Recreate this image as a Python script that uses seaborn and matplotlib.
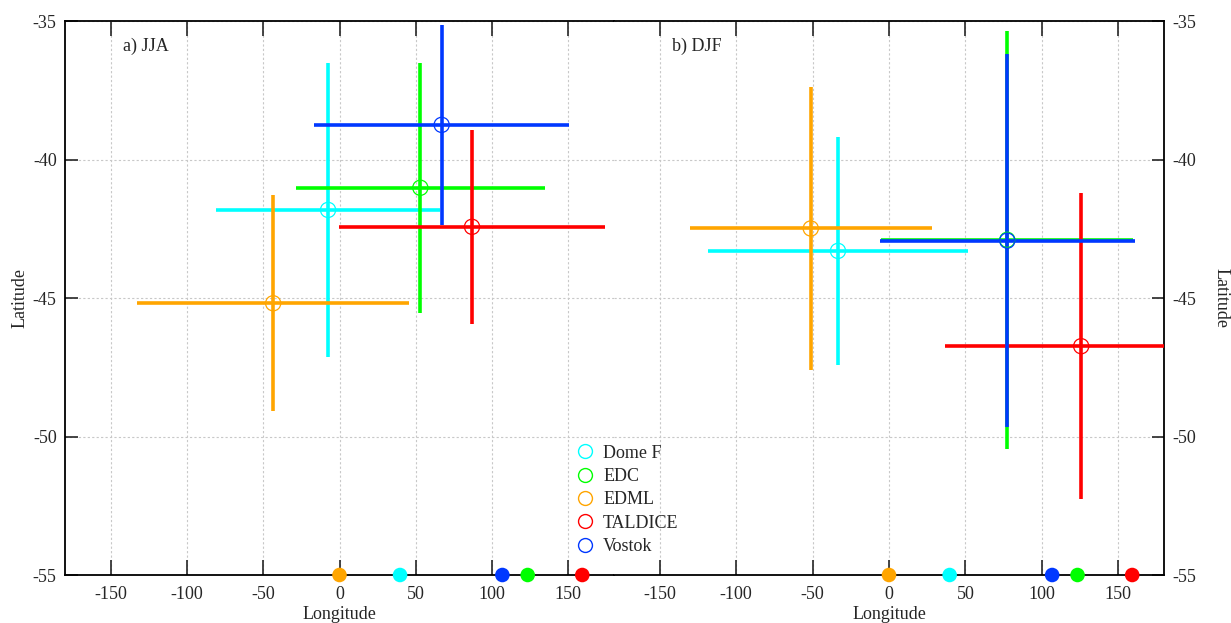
import matplotlib
matplotlib.use("Agg")
import matplotlib.pyplot as plt
import seaborn as sns
import pandas as pd

# stations and colours
stations = ["Dome F", "EDC", "EDML", "TALDICE", "Vostok"]
colors = ["#00ffff", "#00ff00", "#ffa500", "#ff0000", "#0038ff"]

# site longitudes (dots on the bottom axis)
site_lon = [39.7, 123.4, 0.0, 159.2, 106.8]

# JJA moisture source centre and spread
jja_lon = [-7.5, 53.0, -43.5, 86.9, 67.0]
jja_lon_err = [73.5, 81.6, 89.4, 87.4, 83.5]
jja_lat = [-41.82, -41.02, -45.19, -42.43, -38.75]
jja_lat_err = [5.31, 4.52, 3.9, 3.5, 3.6]

# DJF moisture source centre and spread
djf_lon = [-33.4, 77.4, -51.2, 125.8, 77.4]
djf_lon_err = [85.0, 82.6, 79.2, 88.9, 83.6]
djf_lat = [-43.3, -42.9, -42.49, -46.74, -42.93]
djf_lat_err = [4.12, 7.55, 5.1, 5.53, 6.73]

sns.set_style("white")
plt.rcParams['font.family'] = ['Liberation Serif', 'DejaVu Serif']
plt.rcParams['font.size'] = 13
plt.rcParams['axes.unicode_minus'] = False

palette = dict(zip(stations, colors))


def draw_panel(ax, lon, lon_err, lat, lat_err, label):
    df = pd.DataFrame({"station": stations, "lon": lon, "lat": lat})
    for i, st in enumerate(stations):
        ax.errorbar(lon[i], lat[i], xerr=lon_err[i], yerr=lat_err[i],
                    fmt='none', ecolor=colors[i], elinewidth=2.6, capsize=0, zorder=3)
    sns.scatterplot(data=df, x="lon", y="lat", hue="station", palette=palette,
                    marker='o', s=120, facecolor='none', linewidth=0.9,
                    legend=False, ax=ax, zorder=4)
    # re-style markers as open circles
    coll = ax.collections[-1]
    coll.set_facecolor('none')
    coll.set_edgecolor([palette[s] for s in stations])
    sites = pd.DataFrame({"station": stations, "lon": site_lon, "lat": [-55] * len(stations)})
    sns.scatterplot(data=sites, x="lon", y="lat", hue="station", palette=palette,
                    s=110, edgecolor='none', legend=False, ax=ax, zorder=6, clip_on=False)
    ax.set_xlim(-180, 180)
    ax.set_ylim(-55, -35)
    ax.set_xticks(range(-150, 151, 50))
    ax.set_yticks(range(-55, -34, 5))
    ax.grid(True, color='#c8c8c8', linestyle=(0, (2, 2)), linewidth=0.8)
    ax.set_axisbelow(True)
    ax.tick_params(axis='x', direction='in', length=11, width=1.2, top=True, bottom=True, pad=8)
    ax.tick_params(axis='y', direction='in', length=9, width=1.2, pad=6)
    ax.set_xlabel("Longitude", fontsize=13, labelpad=2)
    ax.text(0.105, 0.955, label, transform=ax.transAxes, fontsize=13, ha='left', va='center')
    for sp in ax.spines.values():
        sp.set_color('black')
        sp.set_linewidth(1.3)


fig = plt.figure(figsize=(12.31, 6.23), dpi=100)
ax1 = fig.add_axes([65 / 1231, 48 / 623, 549 / 1231, 554 / 623])
ax2 = fig.add_axes([614 / 1231, 48 / 623, 550 / 1231, 554 / 623])

draw_panel(ax1, jja_lon, jja_lon_err, jja_lat, jja_lat_err, "a) JJA")
draw_panel(ax2, djf_lon, djf_lon_err, djf_lat, djf_lat_err, "b) DJF")

ax1.spines['right'].set_visible(False)
ax1.tick_params(axis='y', left=True, right=False)
ax1.set_ylabel("Latitude", fontsize=13, labelpad=3)

ax2.spines['left'].set_visible(False)
ax2.yaxis.tick_right()
ax2.yaxis.set_label_position("right")
ax2.tick_params(axis='y', left=False, right=True, direction='in')
ax2.set_ylabel("Latitude", fontsize=13, rotation=270, labelpad=24)

handles = [plt.Line2D([], [], marker='o', linestyle='none', markersize=10,
                      markerfacecolor='none', markeredgecolor=c, markeredgewidth=1)
           for c in colors]
fig.legend(handles, stations, loc='upper left', bbox_to_anchor=(0.462, 0.298),
           frameon=False, fontsize=13, handletextpad=0.5, labelspacing=0.35,
           handlelength=1.0, borderaxespad=0)

fig.savefig("out.png", dpi=100)
